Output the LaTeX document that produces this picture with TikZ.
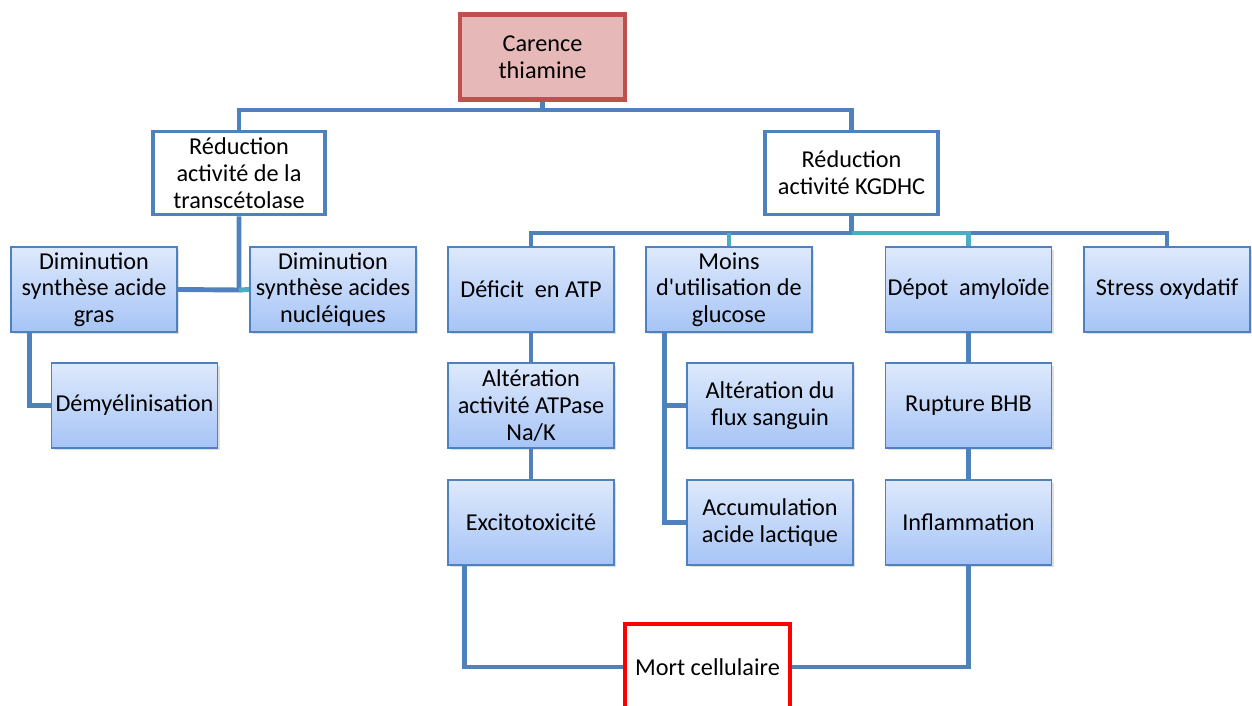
\documentclass[tikz,border=0pt]{standalone}
\usepackage{fontspec}
\setmainfont{Carlito}
\usepackage{tikz}
\usetikzlibrary{calc,positioning,shadows}
\definecolor{linkblue}{HTML}{4F81BD}
\definecolor{linkteal}{HTML}{4BACC6}
\definecolor{boxtop}{RGB}{222,233,252}
\definecolor{boxbot}{RGB}{166,196,246}
\definecolor{causered}{HTML}{C0504D}
\definecolor{causefill}{HTML}{E6B8B7}
\tikzset{
  effect/.style={draw=linkblue, line width=1.1pt, top color=boxtop, bottom color=boxbot,
    minimum width=3.32cm, minimum height=1.7cm, align=center, inner sep=1pt,
    drop shadow={opacity=0.25, shadow xshift=0.05cm, shadow yshift=-0.05cm}},
  enzyme/.style={draw=linkblue, line width=2.2pt, fill=white,
    minimum width=3.45cm, minimum height=1.66cm, align=center, inner sep=1pt},
  cause/.style={draw=causered, line width=2.4pt, fill=causefill,
    minimum width=3.3cm, minimum height=1.7cm, align=center},
  death/.style={draw=red, line width=2.8pt, fill=white,
    minimum width=3.3cm, minimum height=1.72cm, align=center},
  link/.style={draw=linkblue, line width=2.8pt},
  tlink/.style={draw=linkteal, line width=2.8pt}
}
\begin{document}
\begin{tikzpicture}[x=0.02cm, y=-0.02cm, font=\fontsize{13.8}{15.2}\selectfont]
        \useasboundingbox (0,0) rectangle (1252,706);
        % Boxes
        \node[cause] (carence) at (542.5,57) {Carence\\thiamine};
        \node[enzyme] (transc) at (239,173) {Réduction\\activité de la\\transcétolase};
        \node[enzyme] (kgdhc) at (851.5,173) {Réduction\\activité KGDHC};
        \node[effect] (dimag) at (94,289.5) {Diminution\\synthèse acide\\gras};
        \node[effect] (dimnuc) at (333,289.5) {Diminution\\synthèse acides\\nucléiques};
        \node[effect] (demye) at (134.5,405.5) {Démyélinisation};
        \node[effect] (deficit) at (531,289.5) {Déficit\ \ en ATP};
        \node[effect] (moins) at (729,289.5) {Moins\\d\textquotesingle utilisation de\\glucose};
        \node[effect] (depot) at (968.5,289.5) {Dépot\ \ amyloïde};
        \node[effect] (stress) at (1167,289.5) {Stress oxydatif};
        \node[effect] (alter) at (531,405.5) {Altération\\activité ATPase\\Na/K};
        \node[effect] (flux) at (770,405.5) {Altération du\\flux sanguin};
        \node[effect] (excito) at (531,522.5) {Excitotoxicité};
        \node[effect] (acide) at (770,522.5) {Accumulation\\acide lactique};
        \node[effect] (rupture) at (968.5,405.5) {Rupture BHB};
        \node[effect] (inflam) at (968.5,522.5) {Inflammation};
        \node[death] (mort) at (707.5,667) {Mort cellulaire};
        % Branch points
        \coordinate (bus1) at (542.5,110);
        \coordinate (bus2) at (239,290);
        \coordinate (bus3) at (851.5,233);
        % Connectors from the cause
        \draw[link] (carence) -- (bus1) -| (transc);
        \draw[link] (bus1) -| (kgdhc);
        % Transcetolase branch
        \draw[link] (transc) -- (bus2) -- (dimag.east);
        \draw[tlink] (bus2) -- (dimnuc.west);
        \draw[link] ([xshift=0.38cm]dimag.south west) |- (demye.west);
        % KGDHC branch
        \draw[link] (kgdhc) -- (bus3) -| (deficit);
        \draw[link] (depot.north |- bus3) -| (stress);
        \draw[tlink] (bus3) -| (depot);
        \draw[tlink] (moins.north |- bus3) -- (moins);
        \draw[link] (deficit) -- (alter) -- (excito);
        \draw[link] ([xshift=0.38cm]moins.south west) |- (flux.west);
        \draw[link] ([xshift=0.38cm]moins.south west) |- (acide.west);
        \draw[link] (depot) -- (rupture) -- (inflam);
        % Towards cell death
        \draw[link] ([xshift=0.34cm]excito.south west) |- (mort.west);
        \draw[link] (inflam.south) |- (mort.east);
      \end{tikzpicture}
\end{document}
